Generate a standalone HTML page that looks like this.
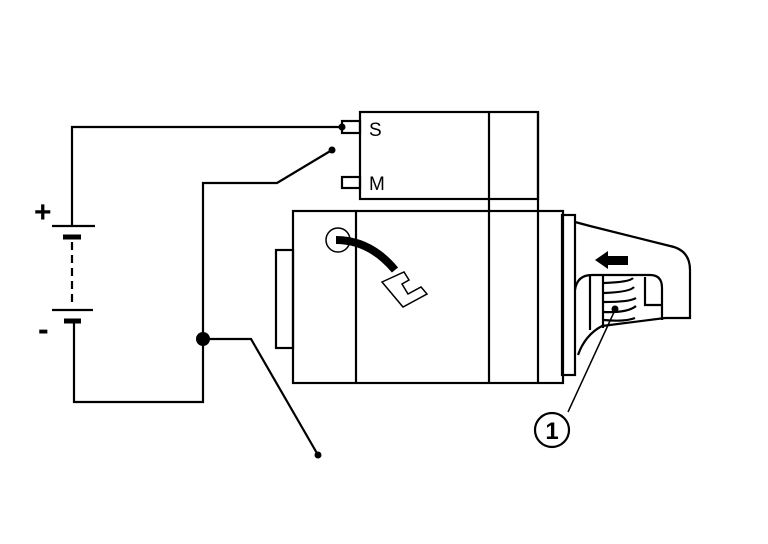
<!DOCTYPE html>
<html><head><style>body{margin:0;background:#fff}svg{display:block}</style></head><body>
<svg width="768" height="544" viewBox="0 0 768 544" xmlns="http://www.w3.org/2000/svg" font-family="Liberation Sans, sans-serif">
<g fill="none" stroke="#000" stroke-width="2.2">
<polyline points="342,127 72,127 72,226"/>
<line x1="52" y1="226" x2="95" y2="226"/>
<line x1="63" y1="237" x2="81" y2="237" stroke-width="5"/>
<line x1="72" y1="242" x2="72" y2="305" stroke-dasharray="8,5"/>
<line x1="52" y1="310" x2="93" y2="310"/>
<line x1="64" y1="321" x2="81" y2="321" stroke-width="5"/>
<polyline points="74,321 74,402 203,402 203,183 277,183 332,150"/>
<polyline points="203,339 251,339 318,455"/>
<rect x="360" y="112" width="178" height="87"/>
<line x1="489" y1="112" x2="489" y2="383"/>
<line x1="538" y1="112" x2="538" y2="383"/>
<rect x="342" y="121" width="18" height="12"/>
<rect x="342" y="177" width="18" height="11"/>
<rect x="293" y="211" width="270" height="172"/>
<line x1="356" y1="211" x2="356" y2="383"/>
<rect x="276" y="250" width="17" height="98"/>
<rect x="562" y="215" width="13" height="160"/>
<path d="M575,222 L590,226 L670,246 Q690,250 690,270 L690,318 L665,318 L602,326 Q585,335 578,355"/>
<path d="M575,290 Q577,275 592,275 L650,275 Q662,275 662,288 L662,320"/>
<path d="M590,276 L590,330 M603,276 L603,328 M645,277 L645,305 L662,305"/>
<path d="M604,283 Q630,282 633,278 M604,293 Q630,292 634,287 M604,302 Q630,302 636,298 M604,312 Q628,313 636,306 M604,320 Q625,322 635,318"/>
<circle cx="338" cy="240" r="12" stroke-width="1.5"/>
<path d="M336,240 Q370,240 395,270" stroke-width="8"/>
<path d="M382,282 L404,272 L409,280 L402,284 L408,294 L421,287 L427,294 L403,307 Z" stroke-width="1.5"/>
<line x1="615" y1="310" x2="568" y2="412" stroke-width="1.5"/>
<circle cx="552" cy="430" r="17"/>
</g>
<g fill="#000">
<circle cx="342" cy="127" r="3.5"/>
<circle cx="332" cy="150" r="3.5"/>
<circle cx="203" cy="339" r="7"/>
<circle cx="318" cy="455" r="3.5"/>
<circle cx="615" cy="309" r="3.5"/>
<polygon points="595,260 608,251 608,256 628,256 628,265 608,265 608,269"/>
</g>
<g font-size="19" fill="#000">
<text x="369" y="136">S</text>
<text x="369" y="190">M</text>
<text x="34" y="222" font-size="30" font-weight="bold">+</text>
<text x="38" y="340" font-size="32" font-weight="bold">-</text>
<text x="552" y="439" font-size="24" text-anchor="middle" font-weight="bold">1</text>
</g>
</svg>
</body></html>
